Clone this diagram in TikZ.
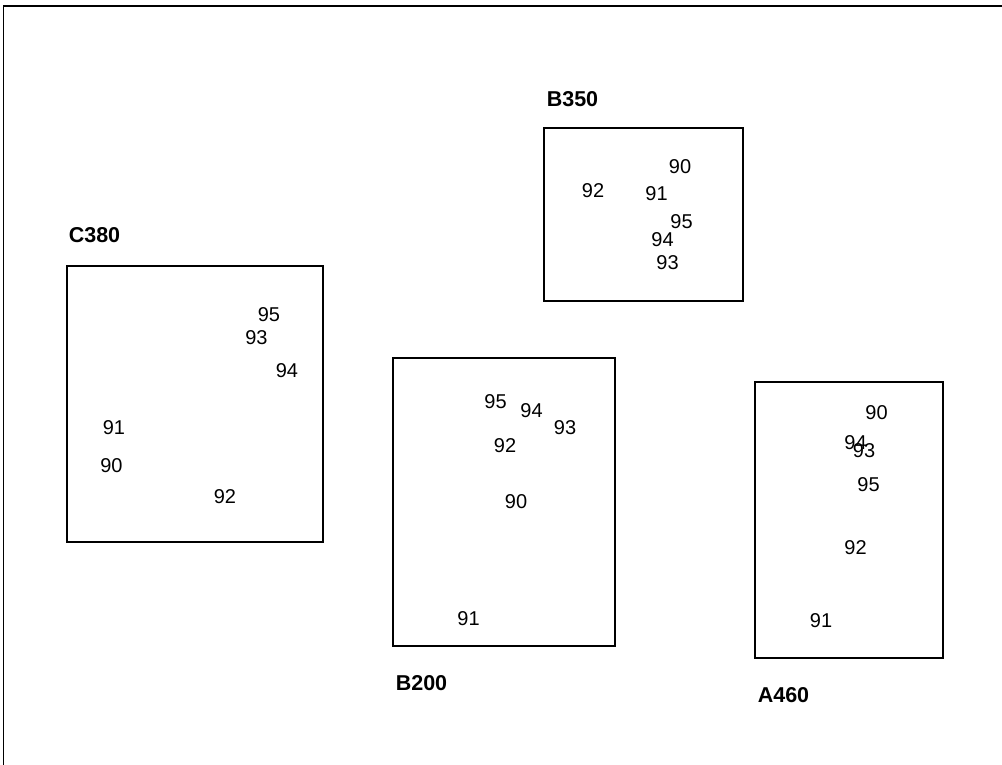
\documentclass[tikz,border=0pt]{standalone}
\usepackage{fontspec}
\setmainfont{Liberation Sans}
\begin{document}
\begin{tikzpicture}[x=1pt,y=-1pt,
  num/.style={inner sep=0pt,font=\fontsize{20}{21}\selectfont},
  lbl/.style={inner sep=0pt,font=\fontsize{21.5}{22}\selectfont\bfseries},
  panel/.style={draw,line width=1.6pt}]
\useasboundingbox (0,0) rectangle (1002,765);
\draw[line width=1.6pt] (3.5,765) -- (3.5,6) -- (1002,6);
% boxes
\draw[panel] (67,266) rectangle (323,542);
\draw[panel] (544,128) rectangle (743,301);
\draw[panel] (393,358) rectangle (615,646);
\draw[panel] (755,382) rectangle (943,658);
% labels
\node[lbl] (lC380) at (94.5,235) {C380};
\node[lbl] (lB350) at (572.5,99) {B350};
\node[lbl] (lB200) at (421.5,683.5) {B200};
\node[lbl] (lA460) at (783.5,695) {A460};
% C380
\node[num] (c95) at (269,314.5) {95};
\node[num] (c93) at (256.5,337.5) {93};
\node[num] (c94) at (287,370.5) {94};
\node[num] (c91) at (114,428) {91};
\node[num] (c90) at (111.5,466) {90};
\node[num] (c92) at (225,496.5) {92};
% B350
\node[num] (b390) at (680,167) {90};
\node[num] (b392) at (593,191) {92};
\node[num] (b391) at (656.5,194) {91};
\node[num] (b395) at (681.5,221.5) {95};
\node[num] (b394) at (662.5,240) {94};
\node[num] (b393) at (667.5,263) {93};
% B200
\node[num] (b295) at (495.5,401.5) {95};
\node[num] (b294) at (531.5,410.5) {94};
\node[num] (b293) at (565,427.5) {93};
\node[num] (b292) at (505,445.5) {92};
\node[num] (b290) at (516,501.5) {90};
\node[num] (b291) at (468.5,618.5) {91};
% A460
\node[num] (a90) at (876.5,412.5) {90};
\node[num] (a94) at (855.5,442.5) {94};
\node[num] (a93) at (864,451) {93};
\node[num] (a95) at (868.5,484.5) {95};
\node[num] (a92) at (855.5,547.5) {92};
\node[num] (a91) at (821,620.5) {91};
\end{tikzpicture}
\end{document}
